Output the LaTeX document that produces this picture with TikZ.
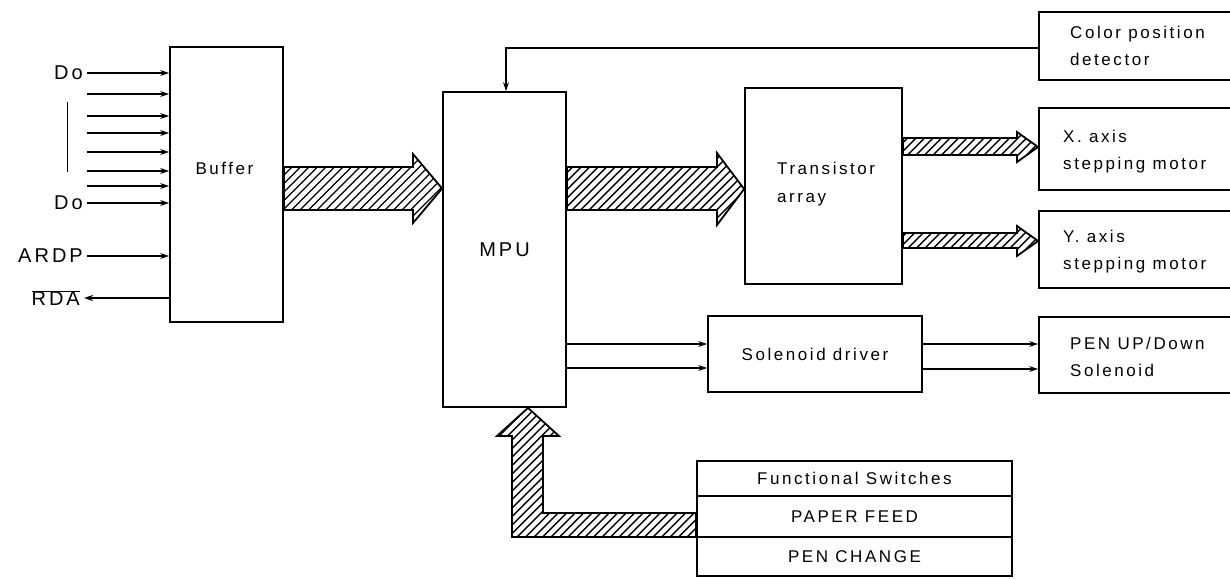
\documentclass[tikz,border=0pt]{standalone}
\usepackage{fontspec}
\setmainfont[LetterSpace=15]{Liberation Sans}
\usetikzlibrary{arrows.meta}
\begin{document}
\begin{tikzpicture}[x=1pt,y=-1pt,
  box/.style={draw,line width=1.8pt,inner sep=0pt,rectangle},
  txt/.style={inner sep=0pt,font=\fontsize{17}{27.5}\selectfont,align=left},
  lbl/.style={inner sep=0pt,font=\fontsize{20}{24}\selectfont},
  sig/.style={line width=1.7pt,-{Stealth[length=9pt,width=6pt]}},
  hatch/.style={draw,line width=1.8pt,line join=miter,
    path picture={\foreach \k in {-600,-591.5,...,1300} {\draw[line width=1.4pt] (\k,600) -- (\k+600,0);}}},
]
\useasboundingbox (0,0) rectangle (1230,578);
\clip (0,0) rectangle (1230,578);

% boxes
\node[box,minimum width=113pt,minimum height=275pt] (buffer) at (226.5,184.5) {};
\node[txt] (buftxt) at (224.5,168) {Buffer};
\node[box,minimum width=123pt,minimum height=315pt,font=\fontsize{20}{24}\selectfont] (mpu) at (504.5,249.5) {MPU};
\node[box,minimum width=157pt,minimum height=196pt] (trans) at (823.5,186) {};
\node[txt,anchor=west] (transtxt) at (777,184) {Transistor\\array};
\node[box,minimum width=196pt,minimum height=68pt] (color) at (1137,46) {};
\node[txt,anchor=west] (colortxt) at (1070,46) {Color position\\detector};
\node[box,minimum width=196pt,minimum height=82pt] (xax) at (1137,149) {};
\node[txt,anchor=west] (xaxtxt) at (1063,151.5) {X. axis\\stepping motor};
\node[box,minimum width=196pt,minimum height=77pt] (yax) at (1137,249.5) {};
\node[txt,anchor=west] (yaxtxt) at (1063,251.5) {Y. axis\\stepping motor};
\node[box,minimum width=214pt,minimum height=76pt,font=\fontsize{17}{24}\selectfont] (sol) at (815,354) {Solenoid driver};
\node[box,minimum width=196pt,minimum height=76pt] (pen) at (1137,355) {};
\node[txt,anchor=west] (pentxt) at (1070,357) {PEN UP/Down\\Solenoid};
\node[box,minimum width=315pt,minimum height=35pt,font=\fontsize{17}{24}\selectfont] (fs1) at (854.5,478.5) {Functional Switches};
\node[box,minimum width=315pt,minimum height=41pt,font=\fontsize{17}{24}\selectfont] (fs2) at (854.5,516.5) {PAPER FEED};
\node[box,minimum width=315pt,minimum height=39pt,font=\fontsize{17}{24}\selectfont] (fs3) at (854.5,556.5) {PEN CHANGE};

% input labels
\node[lbl,anchor=east] (do1) at (83,73) {Do};
\node[lbl,anchor=east] (do2) at (83,203) {Do};
\node[lbl,anchor=east] (ardp) at (83,256) {ARDP};
\node[lbl,anchor=east] (rda) at (80,298) {$\overline{\mbox{RDA}}$};
\draw[line width=0.8pt] (67,102) -- (67,172);

% data inputs
\foreach \yy [count=\i] in {73,94,116,133,152,171,186,203} {
  \coordinate (in\i) at (87,\yy);
  \draw[sig] (in\i) -- (in\i -| buffer.west);
}
\coordinate (ardpin) at (87,256);
\draw[sig] (ardpin) -- (ardpin -| buffer.west);
\coordinate (rdaout) at (84,298);
\draw[sig] (rdaout -| buffer.west) -- (rdaout);

% hatched buses
\draw[hatch] (buffer.east |- 0,167) -- (413,167) -- (413,154) -- (mpu.west |- 0,188.5)
  -- (413,223) -- (413,210) -- (buffer.east |- 0,210) -- cycle;
\draw[hatch] (mpu.east |- 0,167) -- (717,167) -- (717,153) -- (trans.west |- 0,189)
  -- (717,225) -- (717,210) -- (mpu.east |- 0,210) -- cycle;
\draw[hatch] (trans.east |- 0,138) -- (1017,138) -- (1017,132) -- (xax.west |- 0,147)
  -- (1017,162) -- (1017,155) -- (trans.east |- 0,155) -- cycle;
\draw[hatch] (trans.east |- 0,233) -- (1017,233) -- (1017,226) -- (yax.west |- 0,241)
  -- (1017,256) -- (1017,248) -- (trans.east |- 0,248) -- cycle;
\draw[hatch] (fs2.west |- 0,513) -- (543,513) -- (543,436) -- (559,436) -- (528,0 |- mpu.south)
  -- (497,436) -- (512,436) -- (512,537) -- (fs2.west |- 0,537) -- cycle;

% colour position detector
\draw[sig] (color.west |- 0,48) -- (506,48) -- (506,0 |- mpu.north);

% solenoid lines
\draw[sig] (mpu.east |- 0,344) -- (sol.west |- 0,344);
\draw[sig] (mpu.east |- 0,368) -- (sol.west |- 0,368);
\draw[sig] (sol.east |- 0,344) -- (pen.west |- 0,344);
\draw[sig] (sol.east |- 0,369) -- (pen.west |- 0,369);
\end{tikzpicture}
\end{document}
